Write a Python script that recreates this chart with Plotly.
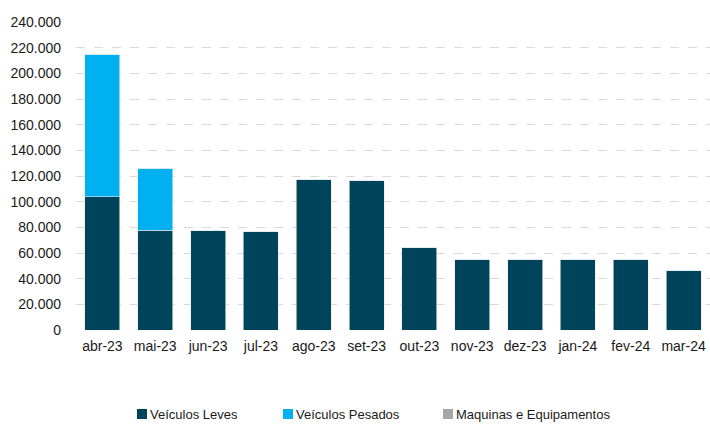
import plotly.graph_objects as go

categories = ["abr-23", "mai-23", "jun-23", "jul-23", "ago-23", "set-23",
              "out-23", "nov-23", "dez-23", "jan-24", "fev-24", "mar-24"]
leves = [104000, 77800, 77600, 76500, 117500, 116500, 64400, 54700, 54700, 55000, 54700, 46200]
pesados = [110800, 48300, 0, 0, 0, 0, 0, 0, 0, 0, 0, 0]
maquinas = [0, 0, 0, 0, 0, 0, 0, 0, 0, 0, 0, 0]
y_ticks = list(range(0, 240001, 20000))

series_names = ["Veículos Leves", "Veículos Pesados", "Maquinas e Equipamentos"]
series_colors = ["#00445C", "#00B0F0", "#A6A6A6"]

FONT = "Liberation Sans, Arial, sans-serif"
W, H = 710, 424
ML, MR, MT, MB = 76, 0, 22, 94
PW, PH = W - ML - MR, H - MT - MB


def px_x(px):
    return (px - ML) / PW


def px_y(py):
    return (H - MB - py) / PH


fig = go.Figure()
for name, vals, color in zip(series_names, [leves, pesados, maquinas], series_colors):
    fig.add_bar(x=categories, y=vals, name=name, showlegend=False,
                marker=dict(color=color, line=dict(color="#e4ecef", width=0.6)))

# manual legend (Excel-style: square marker directly next to text)
legend_marker_px = [137, 283, 443]
legend_y_px = 414
shapes, annotations = [], []
for name, color, mx in zip(series_names, series_colors, legend_marker_px):
    shapes.append(dict(type="rect", xref="paper", yref="paper",
                       x0=px_x(mx), x1=px_x(mx + 10),
                       y0=px_y(legend_y_px + 5), y1=px_y(legend_y_px - 5),
                       fillcolor=color, line=dict(width=0)))
    annotations.append(dict(xref="paper", yref="paper", x=px_x(mx + 11), y=px_y(legend_y_px),
                            xanchor="left", yanchor="middle", showarrow=False,
                            text=name, font=dict(family=FONT, size=13, color="#1a1a1a")))

fig.update_layout(
    width=W, height=H,
    barmode="stack", bargap=0.34,
    separators=",.",
    plot_bgcolor="white", paper_bgcolor="white",
    margin=dict(l=ML, r=MR, t=MT, b=MB),
    font=dict(family=FONT, size=14, color="#1a1a1a"),
    showlegend=False,
    shapes=shapes, annotations=annotations,
    xaxis=dict(showgrid=False, showline=False, ticks="", tickfont=dict(size=14),
               ticklabelstandoff=6, automargin=False),
    yaxis=dict(range=[0, 240000], tickvals=y_ticks, tickformat=",d",
               showgrid=True, gridcolor="#D9D9D9", griddash="dash", gridwidth=1.3,
               zeroline=False, showline=False, ticks="", tickfont=dict(size=14),
               ticklabelstandoff=14, automargin=False),
)

fig.write_html("out.html", config={"displayModeBar": False},
               post_script="document.body.style.margin='0';")
